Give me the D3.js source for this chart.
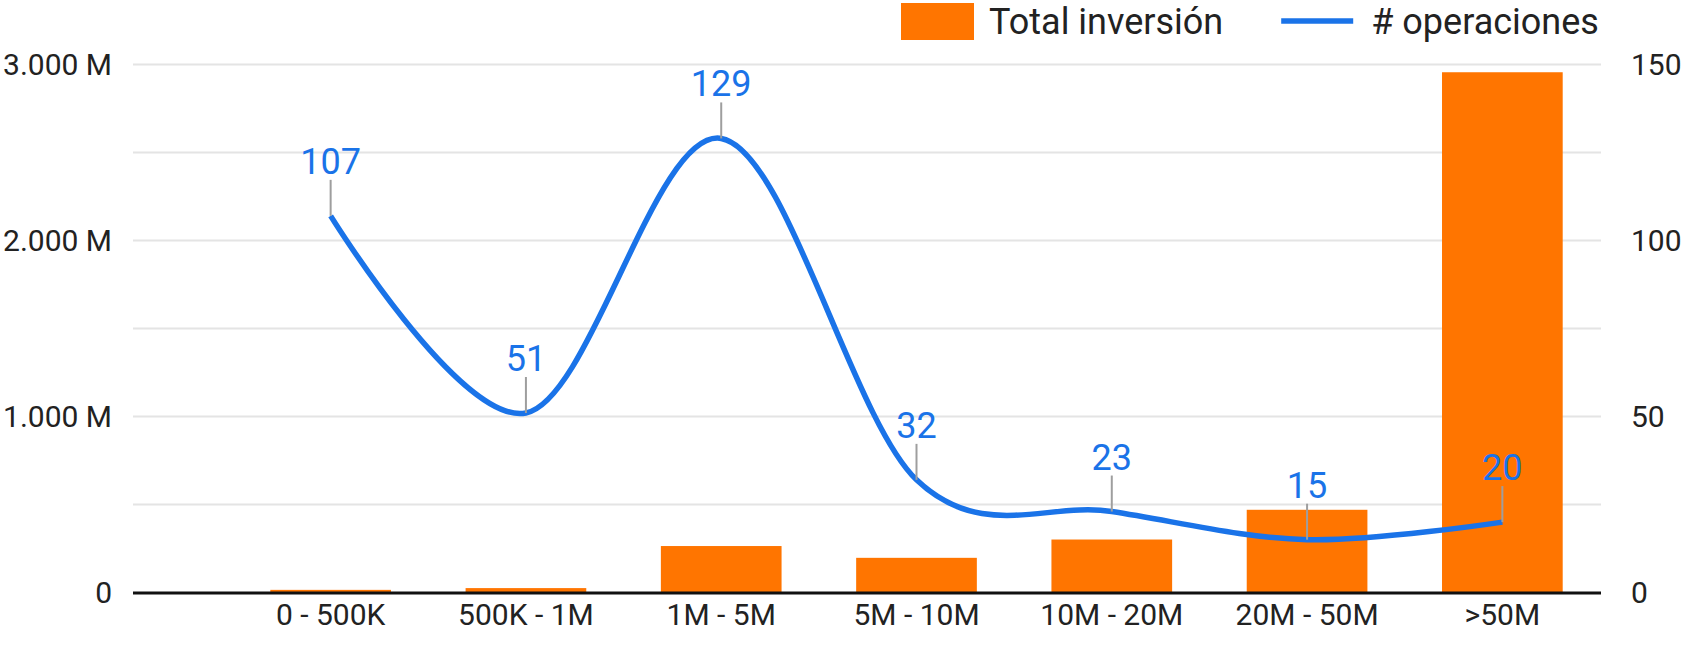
<!DOCTYPE html>
<html>
<head>
<meta charset="utf-8">
<script src="https://cdn.jsdelivr.net/npm/d3@7"></script>
<style>
  html, body { margin: 0; padding: 0; background: #fff; }
  svg { display: block; font-family: Roboto, "Noto Sans", sans-serif; }
</style>
</head>
<body>
<svg id="chart" width="1682" height="645"></svg>
<script>
// ---- data ----
const categories = ["0 - 500K", "500K - 1M", "1M - 5M", "5M - 10M", "10M - 20M", "20M - 50M", ">50M"];
const inversion = [15, 25, 264, 197, 301, 470, 2956];      // millions
const operaciones = [107, 51, 129, 32, 23, 15, 20];
const leftTicks = [0, 1000, 2000, 3000];
const leftTickLabels = ["0", "1.000 M", "2.000 M", "3.000 M"];
const rightTicks = [0, 50, 100, 150];
const gridValues = [0, 500, 1000, 1500, 2000, 2500, 3000];
const seriesNames = ["Total inversión", "# operaciones"];

// ---- layout ----
const plotLeft = 133, plotRight = 1601;
const y0px = 592.5, yTopPx = 64.5;
const orange = "#ff7500", blue = "#1a73e8";

const svg = d3.select("#chart");

const x = d3.scaleBand().domain(categories)
  .range([233, 1600]).paddingInner(0.382).paddingOuter(0.191);
const yL = d3.scaleLinear().domain([0, 3000]).range([y0px, yTopPx]);
const yR = d3.scaleLinear().domain([0, 150]).range([y0px, yTopPx]);

// gridlines
svg.append("g").selectAll("line").data(gridValues.filter(v => v > 0)).join("line")
  .attr("x1", plotLeft).attr("x2", plotRight)
  .attr("y1", d => yL(d)).attr("y2", d => yL(d))
  .attr("stroke", "#e4e4e4").attr("stroke-width", 2);

// left axis labels
const leftAxis = d3.axisLeft(yL).tickValues(leftTicks)
  .tickFormat((d, i) => leftTickLabels[i]).tickSize(0).tickPadding(0);
const gL = svg.append("g").attr("transform", `translate(112,0)`).call(leftAxis);
gL.select(".domain").remove();
gL.selectAll("text").attr("font-size", 30).attr("fill", "#222").attr("font-family", "Roboto");

// right axis labels
const rightAxis = d3.axisRight(yR).tickValues(rightTicks).tickSize(0).tickPadding(0);
const gR = svg.append("g").attr("transform", `translate(1631,0)`).call(rightAxis);
gR.select(".domain").remove();
gR.selectAll("text").attr("font-size", 30).attr("fill", "#222").attr("font-family", "Roboto");

// bars
svg.append("g").selectAll("rect").data(inversion).join("rect")
  .attr("x", (d, i) => x(categories[i]))
  .attr("width", x.bandwidth())
  .attr("y", d => yL(d))
  .attr("height", d => y0px - yL(d))
  .attr("fill", orange);

// baseline
svg.append("line").attr("x1", plotLeft).attr("x2", plotRight)
  .attr("y1", y0px + 0.5).attr("y2", y0px + 0.5)
  .attr("stroke", "#111").attr("stroke-width", 3);

// x axis labels
const bottomAxis = d3.axisBottom(x).tickSize(0).tickPadding(0);
const gB = svg.append("g").attr("transform", `translate(0,604)`).call(bottomAxis);
gB.select(".domain").remove();
gB.selectAll("text").attr("font-size", 30).attr("fill", "#222").attr("font-family", "Roboto");

// line
const pts = operaciones.map((v, i) => [x(categories[i]) + x.bandwidth() / 2, yR(v)]);
svg.append("path").datum(pts)
  .attr("d", d3.line().curve(d3.curveCardinal.tension(0)))
  .attr("fill", "none").attr("stroke", blue).attr("stroke-width", 5.5)
  .attr("stroke-linecap", "butt");

// leader lines + labels
const lab = svg.append("g");
pts.forEach((p, i) => {
  lab.append("line").attr("x1", p[0]).attr("x2", p[0])
    .attr("y1", p[1]).attr("y2", p[1] - 36)
    .attr("stroke", "#9e9e9e").attr("stroke-width", 2);
  lab.append("text").attr("x", p[0]).attr("y", p[1] - 42)
    .attr("text-anchor", "middle").attr("font-size", 36)
    .attr("fill", blue).text(operaciones[i]);
});

// legend
const leg = svg.append("g");
const rectX1 = 901, rectW = 73;
leg.append("rect").attr("x", rectX1).attr("y", 3).attr("width", rectW).attr("height", 37).attr("fill", orange);
const t1x = 989;
const t1 = leg.append("text").attr("x", t1x).attr("y", 34).attr("font-size", 36).attr("fill", "#222").text(seriesNames[0]);
const w1 = t1.node().getComputedTextLength();
const lineX1 = t1x + w1 + 58, lineX2 = lineX1 + 72;
leg.append("line").attr("x1", lineX1).attr("x2", lineX2).attr("y1", 21).attr("y2", 21)
  .attr("stroke", blue).attr("stroke-width", 5.5);
leg.append("text").attr("x", lineX2 + 18).attr("y", 34).attr("font-size", 36).attr("fill", "#222").text(seriesNames[1]);
</script>
</body>
</html>
